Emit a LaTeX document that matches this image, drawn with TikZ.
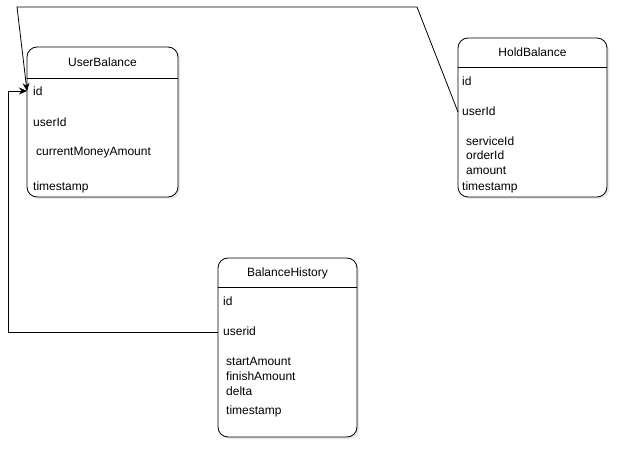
\documentclass[tikz,border=0pt]{standalone}
\usepackage{fontspec}
\setmainfont{Liberation Sans}
\usetikzlibrary{arrows.meta,shadows}
\begin{document}
\begin{tikzpicture}[x=1pt,y=-1pt,
  tbl/.style={draw=black, line width=0.8pt, fill=white, rounded corners=10pt,
    drop shadow={opacity=0.18, shadow xshift=2pt, shadow yshift=-2pt}},
  hdr/.style={line width=0.8pt},
  title/.style={font=\fontsize{12}{14}\selectfont, anchor=base},
  fld/.style={font=\fontsize{12}{14}\selectfont, anchor=base west, inner sep=0pt},
  link/.style={line width=0.8pt},
  arr/.style={link, -{Stealth[length=8pt,width=7pt]}}]
\useasboundingbox (0,0) rectangle (619,449);
% UserBalance
\path[tbl] (27,47) rectangle (178,197);
\draw[hdr] (27,78) -- (178,78);
\node[title] (ubt) at (102.5,67) {UserBalance};
\node[fld] (ubid) at (33,96) {id};
\node[fld] (ubuser) at (33,127) {userId};
\node[fld] (ubcur) at (36,156) {currentMoneyAmount};
\node[fld] (ubts) at (33,191) {timestamp};
% HoldBalance
\path[tbl] (458,38) rectangle (607,197);
\draw[hdr] (458,67) -- (607,67);
\node[title] (hbt) at (532.5,57) {HoldBalance};
\node[fld] (hbid) at (462,86) {id};
\node[fld] (hbuser) at (462,116) {userId};
\node[fld] (hbsrv) at (466,146) {serviceId};
\node[fld] (hbord) at (466,160) {orderId};
\node[fld] (hbamt) at (466,175) {amount};
\node[fld] (hbts) at (462,191) {timestamp};
% BalanceHistory
\path[tbl] (218,258) rectangle (357,437);
\draw[hdr] (218,287) -- (357,287);
\node[title] (bht) at (287.5,277) {BalanceHistory};
\node[fld] (bhid) at (223,306) {id};
\node[fld] (bhuser) at (223,336) {userid};
\node[fld] (bhst) at (226,366) {startAmount};
\node[fld] (bhfin) at (226,381) {finishAmount};
\node[fld] (bhdel) at (226,395) {delta};
\node[fld] (bhts) at (226,414) {timestamp};
% connection points
\coordinate (ubidL) at (27,91);
\coordinate (hbuserL) at (458,112);
\coordinate (bhuserL) at (218,332);
\coordinate (c1) at (417,7);
\coordinate (c2) at (17,7);
\coordinate (c3) at (8,332);
\coordinate (c4) at (8,91);
% connectors
\draw[arr] (hbuserL) -- (c1) -- (c2) -- (ubidL);
\draw[arr] (bhuserL) -- (c3) -- (c4) -- (ubidL);
\end{tikzpicture}
\end{document}
